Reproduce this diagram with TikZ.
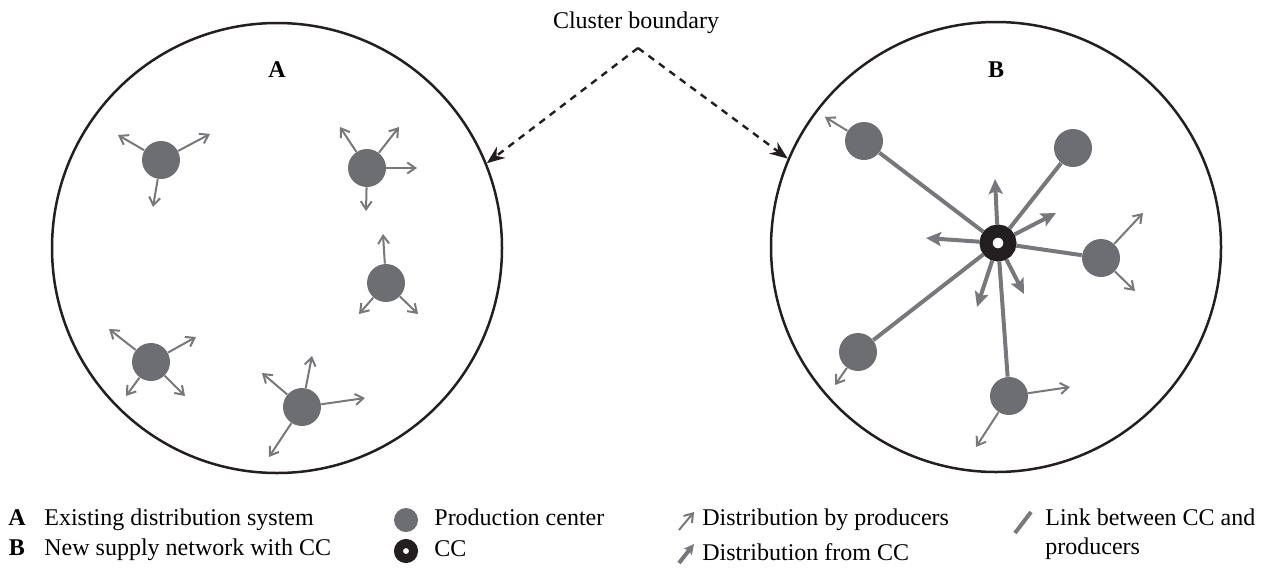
\documentclass[tikz,border=0pt]{standalone}
\usepackage{fontspec}
\setmainfont{Liberation Serif}
\usepackage{tikz}
\usetikzlibrary{arrows.meta}
\definecolor{prodgray}{HTML}{6D6E71}
\definecolor{linkgray}{HTML}{77787B}
\definecolor{ccblack}{HTML}{231F20}
\tikzset{
    cluster/.style={circle, draw=ccblack, line width=1.25pt, minimum size=225pt, inner sep=0pt},
    producer/.style={circle, fill=prodgray, minimum size=19pt, inner sep=0pt},
    ccnode/.style={circle, draw=ccblack, fill=white, line width=6.5pt, minimum size=12pt, inner sep=0pt},
    legprod/.style={circle, fill=prodgray, minimum size=12pt, inner sep=0pt},
    legcc/.style={circle, draw=ccblack, fill=white, line width=4.5pt, minimum size=7.5pt, inner sep=0pt},
    byprod/.style={draw=linkgray, line width=1pt, -{Straight Barb[length=4pt,width=5.5pt]}},
    fromcc/.style={draw=linkgray, line width=2pt, -{Stealth[length=7.5pt,width=7pt,inset=1.5pt]}},
    link/.style={draw=linkgray, line width=2pt},
    boundary/.style={draw=ccblack, line width=1.2pt, dash pattern=on 3.5pt off 3pt, -{Stealth[length=9pt,width=7pt]}},
    txt/.style={font=\fontsize{12}{14}\selectfont},
    boldtxt/.style={font=\fontsize{12}{14}\selectfont\bfseries},
    legtext/.style={anchor=base west, inner sep=0pt, font=\fontsize{12}{14}\selectfont},
}

\begin{document}
\begin{tikzpicture}[x=0.5pt, y=-0.5pt]
    \useasboundingbox (0,0) rectangle (1261,568);

    % the two clusters
    \node[cluster] (clA) at (277,248) {};
    \node[cluster] (clB) at (996,247) {};
    \node[boldtxt, anchor=base] (labA) at (277,77) {A};
    \node[boldtxt, anchor=base] (labB) at (996,77) {B};

    \node[txt, anchor=base] (cbtext) at (636,28) {Cluster boundary};
    \coordinate (apex) at (638,48);
    \draw[boundary] (apex) -- (clA.22.6);
    \draw[boundary] (apex) -- (clB.157.2);

    % A: existing distribution system
    \node[producer] (a1) at (161,160) {};
    \node[producer] (a2) at (367,168) {};
    \node[producer] (a3) at (386,283) {};
    \node[producer] (a4) at (151,362) {};
    \node[producer] (a5) at (302,407) {};
    \foreach \p/\x/\y [count=\i] in {a1/118/135, a1/210/134, a1/153/207,
        a2/340/127, a2/399/127, a2/417/168, a2/366/211,
        a3/383/234, a3/359/314, a3/418/314,
        a4/109/329, a4/196/337, a4/126/396, a4/185/396,
        a5/262/373, a5/312/356, a5/365/398, a5/269/457}{
        \coordinate (ea\i) at (\x,\y);
        \draw[byprod] (\p) -- (ea\i);
    }

    % B: new supply network with CC
    \node[producer] (b1) at (864,141) {};
    \node[producer] (b2) at (1073,148) {};
    \node[producer] (b3) at (1101,258) {};
    \node[producer] (b4) at (858,352) {};
    \node[producer] (b5) at (1009,396) {};
    \node[ccnode] (cc) at (998,243) {};
    \foreach \p in {b1,b2,b3,b4,b5}
        \draw[link] (cc) -- (\p);
    \foreach \p/\x/\y [count=\i] in {b1/825/117, b3/1143/213, b3/1135/291,
        b4/835/385, b5/1070/387, b5/976/447}{
        \coordinate (eb\i) at (\x,\y);
        \draw[byprod] (\p) -- (eb\i);
    }
    \foreach \x/\y [count=\i] in {995/179, 1056/213, 926/238, 977/307, 1024/294}{
        \coordinate (ec\i) at (\x,\y);
        \draw[fromcc] (cc) -- (ec\i);
    }

    % legend
    \node[boldtxt, anchor=base] (legA) at (17,525) {A};
    \node[legtext] (legAt) at (44,525) {Existing distribution system};
    \node[boldtxt, anchor=base] (legB) at (17,555) {B};
    \node[legtext] (legBt) at (44,555) {New supply network with CC};
    \node[legprod] (legprod) at (406,520) {};
    \node[legtext] (legprodt) at (434,525) {Production center};
    \node[legcc] (legcc) at (406,551) {};
    \node[legtext] (legcct) at (434,556) {CC};
    \coordinate (lb1) at (679,530);
    \coordinate (lb2) at (694,512);
    \draw[byprod] (lb1) -- (lb2);
    \node[legtext] (legbyt) at (702,525) {Distribution by producers};
    \coordinate (lf1) at (679,563);
    \coordinate (lf2) at (694,544);
    \draw[fromcc, -{Stealth[length=5pt,width=5pt,inset=1pt]}] (lf1) -- (lf2);
    \node[legtext] (legfromt) at (702,560) {Distribution from CC};
    \coordinate (ll1) at (1015,533);
    \coordinate (ll2) at (1031,512);
    \draw[link] (ll1) -- (ll2);
    \node[legtext] (leglinkt) at (1045,525) {Link between CC and};
    \node[legtext] (leglinkt2) at (1045,554) {producers};
\end{tikzpicture}
\end{document}
